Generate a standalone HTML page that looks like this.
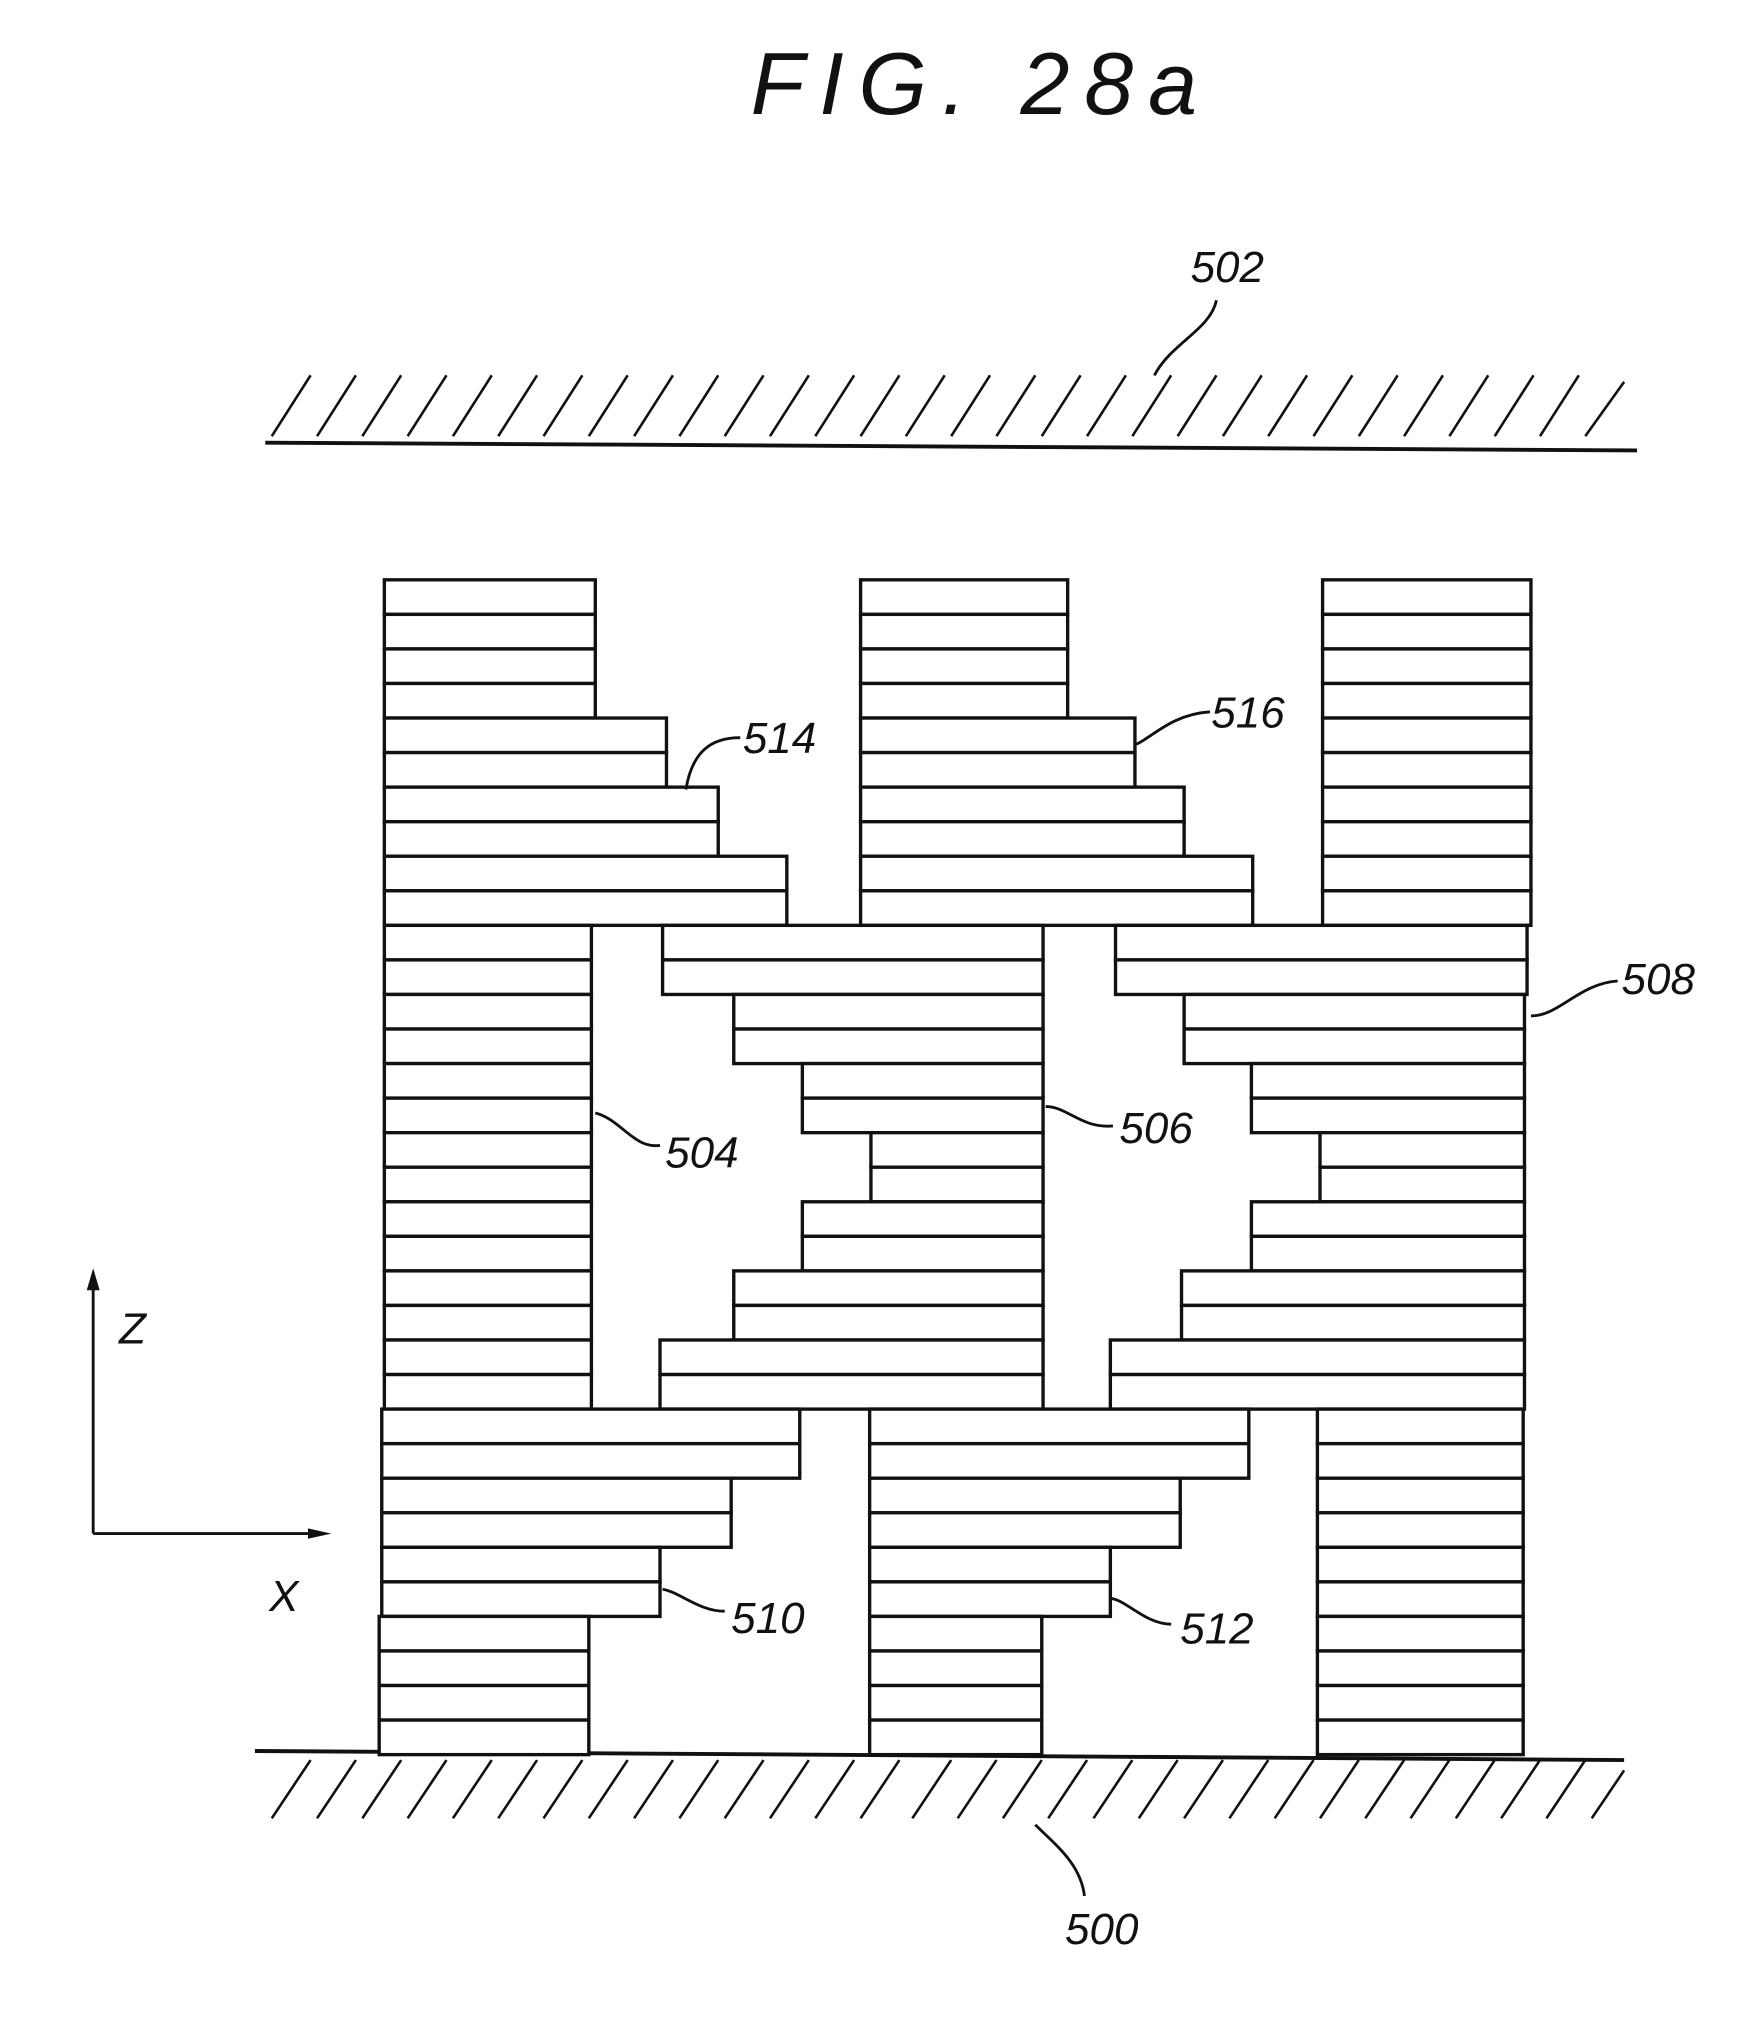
<!DOCTYPE html>
<html><head><meta charset="utf-8"><style>
html,body{margin:0;padding:0;background:#fff;width:1760px;height:2028px;overflow:hidden}
svg{display:block}
text{font-family:"Liberation Sans",sans-serif;font-style:italic;fill:#111}
</style></head><body>
<svg width="1760" height="2028" viewBox="0 0 1360 1567" xmlns="http://www.w3.org/2000/svg">
<text x="580" y="88" font-size="68" textLength="345" lengthAdjust="spacing" font-weight="300">FIG.  28a</text>
<g stroke="#111" stroke-width="3" fill="none">
<line x1="205" y1="342" x2="1265" y2="348"/>
<line x1="197" y1="1353" x2="1255" y2="1360"/>
</g>
<g stroke="#111" stroke-width="2" fill="none">
<path d="M210 337 L240 290 M245 337 L275 290 M280 337 L310 290 M315 337 L345 290 M350 337 L380 290 M385 337 L415 290 M420 337 L450 290 M455 337 L485 290 M490 337 L520 290 M525 337 L555 290 M560 337 L590 290 M595 337 L625 290 M630 337 L660 290 M665 337 L695 290 M700 337 L730 290 M735 337 L765 290 M770 337 L800 290 M805 337 L835 290 M840 337 L870 290 M875 337 L905 290 M910 337 L940 290 M945 337 L975 290 M980 337 L1010 290 M1015 337 L1045 290 M1050 337 L1080 290 M1085 337 L1115 290 M1120 337 L1150 290 M1155 337 L1185 290 M1190 337 L1220 290 M1225 337 L1255 295"/>
<path d="M210 1405 L240 1360 M245 1405 L275 1360 M280 1405 L310 1360 M315 1405 L345 1360 M350 1405 L380 1360 M385 1405 L415 1360 M420 1405 L450 1360 M455 1405 L485 1360 M490 1405 L520 1360 M525 1405 L555 1360 M560 1405 L590 1360 M595 1405 L625 1360 M630 1405 L660 1360 M665 1405 L695 1360 M705 1405 L735 1360 M740 1405 L770 1360 M775 1405 L805 1360 M810 1405 L840 1360 M845 1405 L875 1360 M880 1405 L910 1360 M915 1405 L945 1360 M950 1405 L980 1360 M985 1405 L1015 1360 M1020 1405 L1050 1360 M1055 1405 L1085 1360 M1090 1405 L1120 1360 M1125 1405 L1155 1360 M1160 1405 L1190 1360 M1195 1405 L1225 1360 M1230 1405 L1255 1368"/>
</g>
<g stroke="#111" stroke-width="2.6" fill="#fff">
<rect x="297" y="448.0" width="163" height="26.7"/><rect x="665" y="448.0" width="160" height="26.7"/><rect x="1022" y="448.0" width="161" height="26.7"/>
<rect x="297" y="474.7" width="163" height="26.7"/><rect x="665" y="474.7" width="160" height="26.7"/><rect x="1022" y="474.7" width="161" height="26.7"/>
<rect x="297" y="501.4" width="163" height="26.7"/><rect x="665" y="501.4" width="160" height="26.7"/><rect x="1022" y="501.4" width="161" height="26.7"/>
<rect x="297" y="528.1" width="163" height="26.7"/><rect x="665" y="528.1" width="160" height="26.7"/><rect x="1022" y="528.1" width="161" height="26.7"/>
<rect x="297" y="554.8" width="218" height="26.7"/><rect x="665" y="554.8" width="212" height="26.7"/><rect x="1022" y="554.8" width="161" height="26.7"/>
<rect x="297" y="581.5" width="218" height="26.7"/><rect x="665" y="581.5" width="212" height="26.7"/><rect x="1022" y="581.5" width="161" height="26.7"/>
<rect x="297" y="608.2" width="258" height="26.7"/><rect x="665" y="608.2" width="250" height="26.7"/><rect x="1022" y="608.2" width="161" height="26.7"/>
<rect x="297" y="634.9" width="258" height="26.7"/><rect x="665" y="634.9" width="250" height="26.7"/><rect x="1022" y="634.9" width="161" height="26.7"/>
<rect x="297" y="661.6" width="311" height="26.7"/><rect x="665" y="661.6" width="303" height="26.7"/><rect x="1022" y="661.6" width="161" height="26.7"/>
<rect x="297" y="688.3" width="311" height="26.7"/><rect x="665" y="688.3" width="303" height="26.7"/><rect x="1022" y="688.3" width="161" height="26.7"/>
<rect x="297" y="715.0" width="160" height="26.7"/><rect x="512" y="715.0" width="294" height="26.7"/><rect x="862" y="715.0" width="318" height="26.7"/>
<rect x="297" y="741.7" width="160" height="26.7"/><rect x="512" y="741.7" width="294" height="26.7"/><rect x="862" y="741.7" width="318" height="26.7"/>
<rect x="297" y="768.4" width="160" height="26.7"/><rect x="567" y="768.4" width="239" height="26.7"/><rect x="915" y="768.4" width="263" height="26.7"/>
<rect x="297" y="795.1" width="160" height="26.7"/><rect x="567" y="795.1" width="239" height="26.7"/><rect x="915" y="795.1" width="263" height="26.7"/>
<rect x="297" y="821.8" width="160" height="26.7"/><rect x="620" y="821.8" width="186" height="26.7"/><rect x="967" y="821.8" width="211" height="26.7"/>
<rect x="297" y="848.5" width="160" height="26.7"/><rect x="620" y="848.5" width="186" height="26.7"/><rect x="967" y="848.5" width="211" height="26.7"/>
<rect x="297" y="875.2" width="160" height="26.7"/><rect x="673" y="875.2" width="133" height="26.7"/><rect x="1020" y="875.2" width="158" height="26.7"/>
<rect x="297" y="901.9" width="160" height="26.7"/><rect x="673" y="901.9" width="133" height="26.7"/><rect x="1020" y="901.9" width="158" height="26.7"/>
<rect x="297" y="928.6" width="160" height="26.7"/><rect x="620" y="928.6" width="186" height="26.7"/><rect x="967" y="928.6" width="211" height="26.7"/>
<rect x="297" y="955.3" width="160" height="26.7"/><rect x="620" y="955.3" width="186" height="26.7"/><rect x="967" y="955.3" width="211" height="26.7"/>
<rect x="297" y="982.0" width="160" height="26.7"/><rect x="567" y="982.0" width="239" height="26.7"/><rect x="913" y="982.0" width="265" height="26.7"/>
<rect x="297" y="1008.7" width="160" height="26.7"/><rect x="567" y="1008.7" width="239" height="26.7"/><rect x="913" y="1008.7" width="265" height="26.7"/>
<rect x="297" y="1035.4" width="160" height="26.7"/><rect x="510" y="1035.4" width="296" height="26.7"/><rect x="858" y="1035.4" width="320" height="26.7"/>
<rect x="297" y="1062.1" width="160" height="26.7"/><rect x="510" y="1062.1" width="296" height="26.7"/><rect x="858" y="1062.1" width="320" height="26.7"/>
<rect x="295" y="1088.8" width="323" height="26.7"/><rect x="672" y="1088.8" width="293" height="26.7"/><rect x="1018" y="1088.8" width="159" height="26.7"/>
<rect x="295" y="1115.5" width="323" height="26.7"/><rect x="672" y="1115.5" width="293" height="26.7"/><rect x="1018" y="1115.5" width="159" height="26.7"/>
<rect x="295" y="1142.2" width="270" height="26.7"/><rect x="672" y="1142.2" width="240" height="26.7"/><rect x="1018" y="1142.2" width="159" height="26.7"/>
<rect x="295" y="1168.9" width="270" height="26.7"/><rect x="672" y="1168.9" width="240" height="26.7"/><rect x="1018" y="1168.9" width="159" height="26.7"/>
<rect x="295" y="1195.6" width="215" height="26.7"/><rect x="672" y="1195.6" width="186" height="26.7"/><rect x="1018" y="1195.6" width="159" height="26.7"/>
<rect x="295" y="1222.3" width="215" height="26.7"/><rect x="672" y="1222.3" width="186" height="26.7"/><rect x="1018" y="1222.3" width="159" height="26.7"/>
<rect x="293" y="1249.0" width="162" height="26.7"/><rect x="672" y="1249.0" width="133" height="26.7"/><rect x="1018" y="1249.0" width="159" height="26.7"/>
<rect x="293" y="1275.7" width="162" height="26.7"/><rect x="672" y="1275.7" width="133" height="26.7"/><rect x="1018" y="1275.7" width="159" height="26.7"/>
<rect x="293" y="1302.4" width="162" height="26.7"/><rect x="672" y="1302.4" width="133" height="26.7"/><rect x="1018" y="1302.4" width="159" height="26.7"/>
<rect x="293" y="1329.1" width="162" height="26.7"/><rect x="672" y="1329.1" width="133" height="26.7"/><rect x="1018" y="1329.1" width="159" height="26.7"/>
</g>
<g stroke="#111" stroke-width="2.2" fill="none">
<path d="M940 232 C935 255 905 265 892 290"/>
<path d="M572 570 C550 570 535 580 530 610"/>
<path d="M935 550 C905 552 890 570 878 575"/>
<path d="M1250 758 C1220 760 1205 785 1183 785"/>
<path d="M510 885 C490 888 480 865 460 860"/>
<path d="M860 870 C835 872 825 855 808 855"/>
<path d="M560 1245 C540 1245 525 1230 512 1228"/>
<path d="M905 1255 C885 1255 870 1236 858 1235"/>
<path d="M838 1465 C835 1440 815 1425 800 1410"/>
<line x1="72" y1="1185" x2="72" y2="992"/>
<line x1="72" y1="1185" x2="250" y2="1185"/>
</g>
<path d="M72 980 L67 997 L77 997 Z" fill="#111"/>
<path d="M256 1185 L238 1181 L238 1189 Z" fill="#111"/>
<g font-size="34">
<text x="920" y="218">502</text>
<text x="574" y="582">514</text>
<text x="936" y="562">516</text>
<text x="1253" y="768">508</text>
<text x="514" y="902">504</text>
<text x="865" y="883">506</text>
<text x="565" y="1262">510</text>
<text x="912" y="1270">512</text>
<text x="823" y="1502">500</text>
<text x="92" y="1038">Z</text>
<text x="208" y="1245">X</text>
</g>
</svg>
</body></html>
